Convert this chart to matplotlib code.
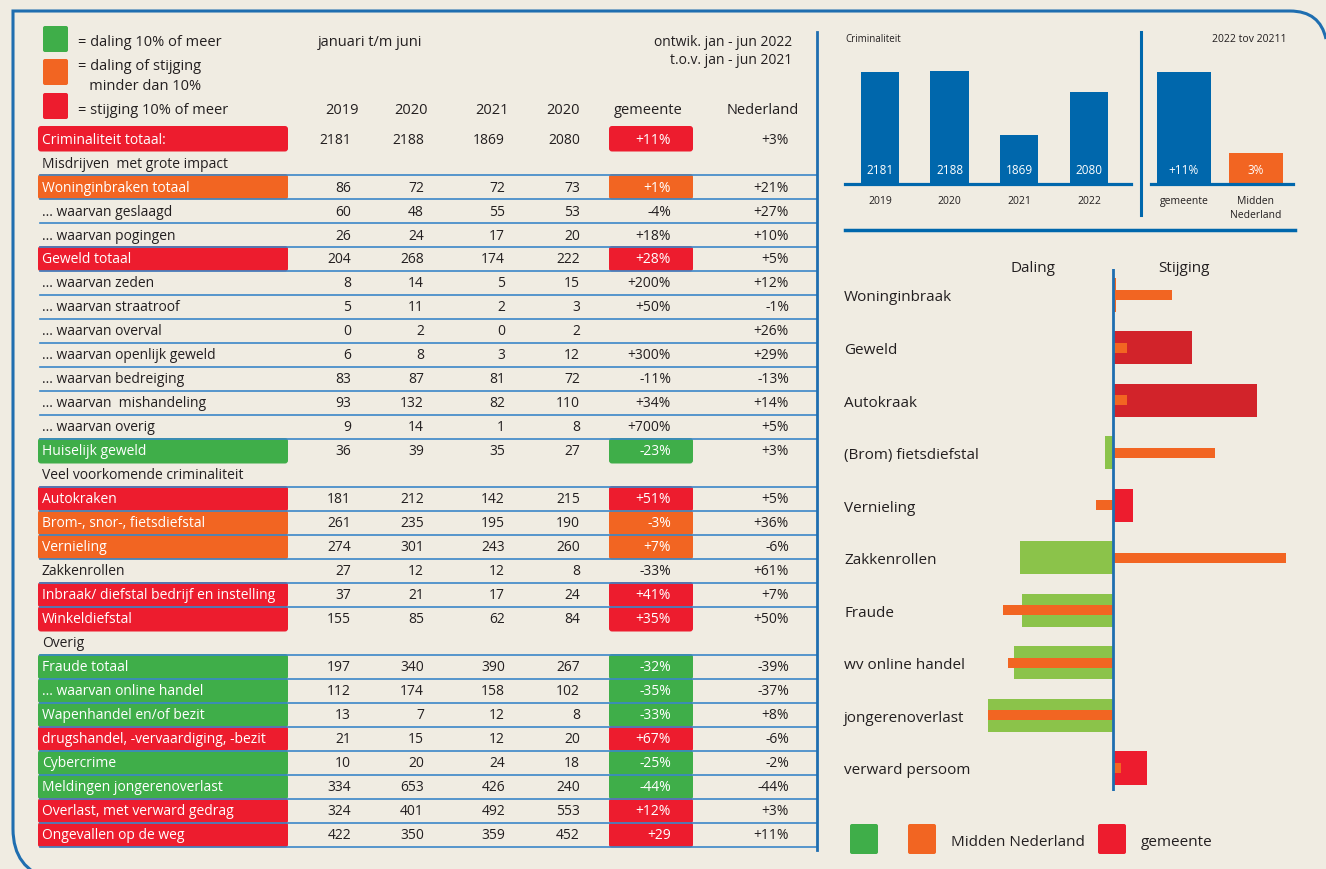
import matplotlib
matplotlib.use('Agg')
import matplotlib.pyplot as plt
from matplotlib.patches import FancyBboxPatch, PathPatch
from matplotlib.path import Path

plt.rcParams['font.family'] = ['Open Sans', 'DejaVu Sans']

# ---------------- data ----------------
row_labels = [
    "Criminaliteit totaal:", "Misdrijven  met grote impact", "Woninginbraken totaal",
    "... waarvan geslaagd", "... waarvan pogingen", "Geweld totaal", "... waarvan zeden",
    "... waarvan straatroof", "... waarvan overval", "... waarvan openlijk geweld",
    "... waarvan bedreiging", "... waarvan  mishandeling", "... waarvan overig",
    "Huiselijk geweld", "Veel voorkomende criminaliteit", "Autokraken",
    "Brom-, snor-, fietsdiefstal", "Vernieling", "Zakkenrollen",
    "Inbraak/ diefstal bedrijf en instelling", "Winkeldiefstal", "Overig",
    "Fraude totaal", "... waarvan online handel", "Wapenhandel en/of bezit",
    "drugshandel, -vervaardiging, -bezit", "Cybercrime", "Meldingen jongerenoverlast",
    "Overlast, met verward gedrag", "Ongevallen op de weg",
]
col_2019 = [2181, None, 86, 60, 26, 204, 8, 5, 0, 6, 83, 93, 9, 36, None, 181, 261, 274, 27, 37, 155, None, 197, 112, 13, 21, 10, 334, 324, 422]
col_2020 = [2188, None, 72, 48, 24, 268, 14, 11, 2, 8, 87, 132, 14, 39, None, 212, 235, 301, 12, 21, 85, None, 340, 174, 7, 15, 20, 653, 401, 350]
col_2021 = [1869, None, 72, 55, 17, 174, 5, 2, 0, 3, 81, 82, 1, 35, None, 142, 195, 243, 12, 17, 62, None, 390, 158, 12, 12, 24, 426, 492, 359]
col_2022 = [2080, None, 73, 53, 20, 222, 15, 3, 2, 12, 72, 110, 8, 27, None, 215, 190, 260, 8, 24, 84, None, 267, 102, 8, 20, 18, 240, 553, 452]
gemeente_pct = ["+11%", None, "+1%", "-4%", "+18%", "+28%", "+200%", "+50%", "", "+300%", "-11%", "+34%", "+700%", "-23%", None, "+51%", "-3%", "+7%", "-33%", "+41%", "+35%", None, "-32%", "-35%", "-33%", "+67%", "-25%", "-44%", "+12%", "+29"]
nederland_pct = ["+3%", None, "+21%", "+27%", "+10%", "+5%", "+12%", "-1%", "+26%", "+29%", "-13%", "+14%", "+5%", "+3%", None, "+5%", "+36%", "-6%", "+61%", "+7%", "+50%", None, "-39%", "-37%", "+8%", "-6%", "-2%", "-44%", "+3%", "+11%"]
# r = stijging >=10%, o = minder dan 10%, g = daling >=10%, '' = none, h = heading
row_status = ['r', 'h', 'o', '', '', 'r', '', '', '', '', '', '', '', 'g', 'h', 'r', 'o', 'o', '', 'r', 'r', 'h', 'g', 'g', 'g', 'r', 'g', 'g', 'r', 'r']
col_headers = ["2019", "2020", "2021", "2020", "gemeente", "Nederland"]

years = ["2019", "2020", "2021", "2022"]
total_crime = [2181, 2188, 1869, 2080]
cmp_labels = ["gemeente", "Midden\nNederland"]
cmp_values = [11, 3]
cmp_texts = ["+11%", "3%"]

div_categories = ["Woninginbraak", "Geweld", "Autokraak", "(Brom) fietsdiefstal", "Vernieling",
                  "Zakkenrollen", "Fraude", "wv online handel", "jongerenoverlast", "verward persoom"]
div_gemeente = [1, 28, 51, -3, 7, -33, -32, -35, -44, 12]
div_midden = [21, 5, 5, 36, -6, 61, -39, -37, -44, 3]
div_gem_colors = ['o', 'dr', 'dr', 'lg', 'r', 'lg', 'lg', 'lg', 'lg', 'r']

# ---------------- style ----------------
BG = '#F0ECE2'
BLUE = '#0067AC'
LINE = '#3B87C8'
GREEN = '#3FAE49'
ORANGE = '#F26522'
RED = '#ED1C2E'
DARKRED = '#D2232A'
LGREEN = '#8BC34A'
TXT = '#231F20'
status_col = {'r': RED, 'o': ORANGE, 'g': GREEN, 'dr': DARKRED, 'lg': LGREEN}
DY = 2  # vertical text nudge (px)

W, H = 1326, 870
fig = plt.figure(figsize=(W / 100, H / 100), dpi=100, facecolor=BG)

ov = fig.add_axes([0, 0, 1, 1])
ov.set_xlim(0, W)
ov.set_ylim(H, 0)
ov.axis('off')
ov.set_zorder(0)
ov.patch.set_alpha(0)

def T(x, y, s, **kw):
    kw.setdefault('color', TXT)
    kw.setdefault('va', 'center')
    return ov.text(x, y + DY, s, **kw)

def rbox(x0, y0, x1, y1, color, r=3, z=1):
    p = FancyBboxPatch((x0, y0), x1 - x0, y1 - y0,
                       boxstyle=f"round,pad=0,rounding_size={r}",
                       fc=color, ec='none', zorder=z)
    ov.add_patch(p)

# outer border
verts = [(1326, 40), (1320, 12), (1290, 12), (13, 12), (13, 830), (13, 870), (50, 880)]
codes = [Path.MOVETO, Path.CURVE3, Path.CURVE3, Path.LINETO, Path.LINETO, Path.CURVE3, Path.CURVE3]
ov.add_patch(PathPatch(Path(verts, codes), fc='none', ec='#1F6EB0', lw=2.2, zorder=5))
# vertical separator
ov.plot([817, 817], [33, 851], color='#1F6EB0', lw=2.0, zorder=5)

# legend top-left
for y0, c in [(27, GREEN), (60, ORANGE), (94, RED)]:
    rbox(43, y0, 68, y0 + 26, c, r=2)
for txt, y in [("= daling 10% of meer", 41), ("= daling of stijging", 64),
               ("   minder dan 10%", 84), ("= stijging 10% of meer", 108)]:
    T(78, y, txt, fontsize=10.5, ha='left')

T(318, 41, "januari t/m juni", fontsize=10.5, ha='left')
T(792, 41, "ontwik. jan - jun 2022", fontsize=10, ha='right')
T(792, 59, "t.o.v. jan - jun 2021", fontsize=10, ha='right')

header_x = [342, 411, 492, 563, 648, 763]
for hx, ht in zip(header_x, col_headers):
    T(hx, 108, ht, fontsize=10.5, ha='center')

# table
row0, rh = 138, 24
val_cols = [col_2019, col_2020, col_2021, col_2022]
val_right = [351, 424, 505, 580]
FS = 10
for i, lab in enumerate(row_labels):
    yc = row0 + i * rh
    st = row_status[i]
    if st in ('r', 'o', 'g'):
        rbox(38, yc - 11, 288, yc + 14.5, status_col[st], r=3)
        rbox(609, yc - 11, 693, yc + 14.5, status_col[st], r=3)
        tc = 'white'
    else:
        tc = TXT
    T(42, yc, lab, fontsize=FS, color=tc, ha='left', zorder=6)
    if st == 'h':
        continue
    for col, xr in zip(val_cols, val_right):
        T(xr, yc, str(col[i]), fontsize=FS, ha='right', zorder=6)
    gtc = 'white' if st in ('r', 'o', 'g') else TXT
    T(671, yc, gemeente_pct[i], fontsize=FS, color=gtc, ha='right', zorder=6)
    T(789, yc, nederland_pct[i], fontsize=FS, ha='right', zorder=6)
    if i >= 2:
        ov.plot([40, 816], [yc - 10, yc - 10], color=LINE, lw=1.2, zorder=4)
ylast = row0 + (len(row_labels) - 1) * rh + 14
ov.plot([40, 816], [ylast, ylast], color=LINE, lw=1.2, zorder=4)

# ---------------- top right bar charts ----------------
def fig_axes(x0, y_top, x1, y_bot):
    return fig.add_axes([x0 / W, (H - y_bot) / H, (x1 - x0) / W, (y_bot - y_top) / H])

axA = fig_axes(845, 60, 1131, 185)
axA.patch.set_alpha(0)
xa = list(range(len(years)))
axA.bar(xa, total_crime, width=0.55, color=BLUE, zorder=2)
axA.set_xlim(-0.502, 3.603)
axA.set_ylim(1626, 2245)
for s in ['top', 'right', 'left']:
    axA.spines[s].set_visible(False)
axA.spines['bottom'].set_color(BLUE)
axA.spines['bottom'].set_linewidth(2.3)
axA.set_yticks([])
axA.set_xticks(xa)
axA.set_xticklabels(years, fontsize=7.5, color=TXT)
axA.tick_params(axis='x', length=0, pad=8)
for xi, v in zip(xa, total_crime):
    axA.annotate(str(v), xy=(xi, 1626), xytext=(0, 15 * 0.72), textcoords='offset points',
                 ha='center', va='center', color='white', fontsize=8.5)

axB = fig_axes(1151, 60, 1293, 185)
axB.patch.set_alpha(0)
xb = list(range(len(cmp_labels)))
axB.bar(xb, cmp_values, width=0.75, color=[BLUE, ORANGE], zorder=2)
axB.set_xlim(-0.458, 1.514)
axB.set_ylim(0, 12.25)
for s in ['top', 'right', 'left']:
    axB.spines[s].set_visible(False)
axB.spines['bottom'].set_color(BLUE)
axB.spines['bottom'].set_linewidth(2.3)
axB.set_yticks([])
axB.set_xticks(xb)
axB.set_xticklabels(cmp_labels, fontsize=7.5, color=TXT, linespacing=1.3)
axB.tick_params(axis='x', length=0, pad=8)
for xi, t in zip(xb, cmp_texts):
    axB.annotate(t, xy=(xi, 0), xytext=(0, 15 * 0.72), textcoords='offset points',
                 ha='center', va='center', color='white', fontsize=8.5)

T(845, 38, "Criminaliteit", fontsize=7, ha='left')
T(1287, 38, "2022 tov 20211", fontsize=7.5, ha='right')
ov.plot([1141, 1141], [33, 216], color=BLUE, lw=2.2)
ov.plot([845, 1295], [231, 231], color=BLUE, lw=2.5)

# ---------------- diverging chart ----------------
axC = fig_axes(960, 270, 1300, 792)
axC.patch.set_alpha(0)
yc_ = list(range(len(div_categories)))
axC.barh(yc_, div_gemeente, height=0.63, color=[status_col[c] for c in div_gem_colors], zorder=2)
axC.barh(yc_, div_midden, height=0.19, color=ORANGE, zorder=3)
axC.axvline(0, color='#1F6EB0', lw=2.0, zorder=4)
axC.set_xlim(-54.06, 66.08)
axC.set_ylim(9 + 23 / 52.55, -26 / 52.55)
axC.axis('off')
for i, cat in enumerate(div_categories):
    T(844, 296 + i * 52.55, cat, fontsize=11, ha='left')
T(1033, 267, "Daling", fontsize=11, ha='center')
T(1184, 267, "Stijging", fontsize=11, ha='center')

# bottom legend
rbox(850, 825, 878, 855, GREEN, r=2)
rbox(908, 825, 936, 855, ORANGE, r=2)
rbox(1098, 825, 1126, 855, RED, r=2)
T(951, 841, "Midden Nederland", fontsize=11, ha='left')
T(1141, 841, "gemeente", fontsize=11, ha='left')

fig.savefig('out.png', dpi=100, facecolor=BG)
